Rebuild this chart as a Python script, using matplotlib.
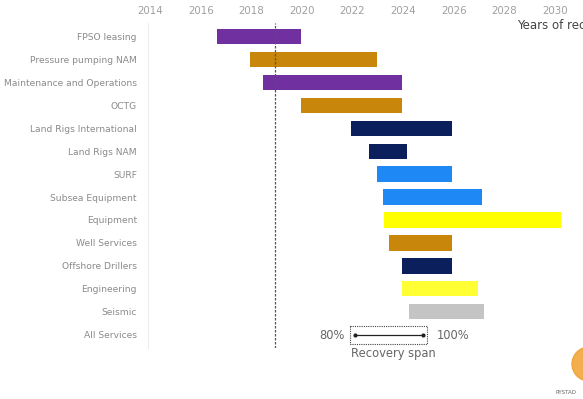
import matplotlib.pyplot as plt
from matplotlib.patches import Rectangle, Ellipse

# Recovery span per segment (start = 80 %, end = 100 %)
segments = ["FPSO leasing", "Pressure pumping NAM", "Maintenance and Operations",
            "OCTG", "Land Rigs International", "Land Rigs NAM", "SURF",
            "Subsea Equipment", "Equipment", "Well Services", "Offshore Drillers",
            "Engineering", "Seismic", "All Services"]
start = [2016.65, 2017.95, 2018.45, 2019.95, 2021.95, 2022.65, 2022.95,
         2023.2, 2023.25, 2023.45, 2023.95, 2023.95, 2024.25]
end = [2019.95, 2022.95, 2023.95, 2023.95, 2025.95, 2024.15, 2025.95,
       2027.1, 2030.25, 2025.95, 2025.95, 2026.95, 2027.2]
colors = ["#7030A0", "#C8860A", "#7030A0", "#C8860A", "#0A1F5C", "#0A1F5C",
          "#1E88F5", "#1E88F5", "#FFFF00", "#C8860A", "#0A1F5C", "#FFFF33", "#C4C4C4"]
today = 2018.95
years = [2014, 2016, 2018, 2020, 2022, 2024, 2026, 2028, 2030]

fig = plt.figure(figsize=(5.83, 3.99), dpi=100)
ax = fig.add_axes([0.254, 0.128, 0.746, 0.814])

for i in range(len(start)):
    ax.barh(i, end[i] - start[i], left=start[i], height=0.66,
            color=colors[i], edgecolor="none")

ax.axvline(today, color="#555555", lw=0.9, ls=(0, (2, 1.2)))

ax.set_xlim(2013.92, 2031.11)
ax.set_ylim(len(segments) - 0.43, -0.57)
ax.set_yticks(range(len(segments)))
ax.set_yticklabels(segments, fontsize=6.6, color="#8A8A8A")
ax.set_xticks(years)
ax.xaxis.tick_top()
ax.tick_params(axis="both", length=0)
ax.tick_params(axis="x", pad=5, labelsize=7.4, colors="#A0A0A0")
ax.tick_params(axis="y", pad=8)
for s in ["top", "right", "bottom"]:
    ax.spines[s].set_visible(False)
ax.spines["left"].set_color("#EEEEEE")

# legend drawn on the "All Services" row
r = len(segments) - 1
ax.add_patch(Rectangle((2021.9, r - 0.38), 3.05, 0.78, fill=False,
                       ls=(0, (1, 1)), lw=0.8, ec="#444444"))
ax.plot([2022.1, 2024.8], [r, r], color="#222222", lw=0.9,
        marker="o", markersize=2)
ax.text(2021.7, r + 0.05, "80%", ha="right", va="center", fontsize=8.3, color="#666666")
ax.text(2025.35, r + 0.05, "100%", ha="left", va="center", fontsize=8.3, color="#666666")
ax.text(2023.62, r + 0.83, "Recovery span", ha="center", va="center",
        fontsize=8.3, color="#666666")

fig.text(517 / 583, 1 - 26 / 399, "Years of recovery", fontsize=8.5,
         color="#444444", va="center")

# logo fragment
fig.patches.append(Ellipse((589 / 583, 1 - 364 / 399), 34 / 583, 34 / 399,
                           transform=fig.transFigure, color="#F0A030", alpha=0.85))
fig.text(555 / 583, 1 - 392 / 399, "RYSTAD", fontsize=4, color="#666666", va="center")

fig.savefig("out.png", dpi=100)
